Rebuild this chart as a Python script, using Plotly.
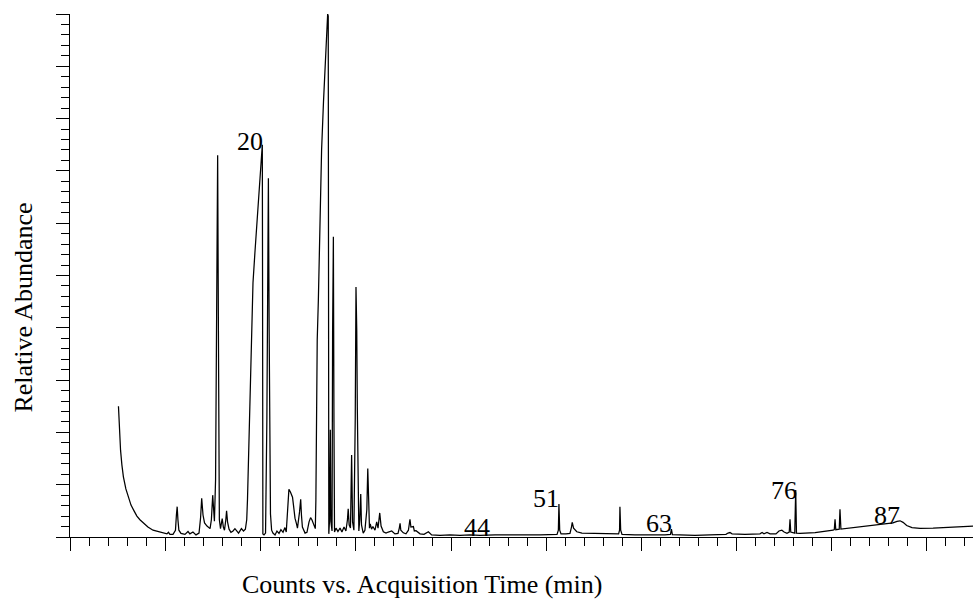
import plotly.graph_objects as go

# Chromatogram trace: acquisition time (min) and relative abundance
time_min = [
    2.50, 2.55, 2.61, 2.68, 2.76, 2.89, 3.03, 3.16, 3.32, 3.47, 3.63, 3.84, 4.05, 4.32, 4.58, 4.84,
    5.05, 5.13, 5.21, 5.37, 5.50, 5.55, 5.59, 5.63, 5.68, 5.79, 6.00, 6.16, 6.26, 6.42, 6.58, 6.74,
    6.82, 6.88, 6.95, 7.03, 7.16, 7.32, 7.39, 7.46, 7.50, 7.55, 7.61, 7.67, 7.72, 7.76, 7.81, 7.87,
    7.92, 7.96, 8.02, 8.08, 8.15, 8.19, 8.24, 8.32, 8.42, 8.53, 8.63, 8.74, 8.82, 8.97, 9.08, 9.18,
    9.25, 9.29, 9.34, 9.42, 9.50, 9.58, 9.68, 9.82, 9.95, 10.04, 10.07, 10.08, 10.10, 10.16, 10.24,
    10.31, 10.35, 10.39, 10.43, 10.46, 10.50, 10.56, 10.63, 10.74, 10.84, 10.95, 11.05, 11.16, 11.26,
    11.33, 11.39, 11.47, 11.55, 11.66, 11.71, 11.79, 11.87, 11.92, 12.03, 12.09, 12.13, 12.18, 12.32,
    12.42, 12.53, 12.61, 12.68, 12.79, 12.86, 12.89, 12.93, 12.96, 13.02, 13.11, 13.19, 13.29, 13.37,
    13.46, 13.51, 13.54, 13.55, 13.57, 13.61, 13.65, 13.68, 13.74, 13.77, 13.81, 13.84, 13.87, 13.95,
    14.05, 14.16, 14.26, 14.37, 14.47, 14.55, 14.59, 14.64, 14.71, 14.77, 14.82, 14.89, 14.96, 15.00,
    15.04, 15.07, 15.11, 15.15, 15.20, 15.25, 15.29, 15.38, 15.47, 15.57, 15.62, 15.66, 15.71, 15.75,
    15.82, 15.89, 16.00, 16.09, 16.16, 16.25, 16.32, 16.44, 16.58, 16.70, 16.88, 17.05, 17.21, 17.28,
    17.32, 17.36, 17.49, 17.63, 17.76, 17.84, 17.89, 18.02, 18.07, 18.16, 18.37, 18.58, 18.81, 18.98,
    19.42, 19.95, 20.47, 21.00, 21.53, 22.32, 23.10, 23.90, 24.68, 25.21, 25.58, 25.65, 25.68, 25.72,
    25.79, 26.05, 26.26, 26.34, 26.38, 26.45, 26.62, 26.89, 27.32, 27.84, 28.37, 28.82, 28.87, 28.89,
    28.93, 29.00, 29.68, 30.47, 31.26, 31.55, 31.60, 31.65, 32.05, 32.84, 33.63, 34.16, 34.47, 34.58,
    34.68, 34.79, 35.47, 36.26, 36.37, 36.47, 36.63, 36.79, 37.10, 37.26, 37.41, 37.53, 37.68, 37.80,
    37.84, 37.88, 38.09, 38.14, 38.18, 38.37, 39.16, 40.11, 40.17, 40.21, 40.25, 40.43, 40.47, 40.52,
    41.00, 41.88, 42.58, 42.93, 43.26, 43.47, 43.63, 43.79, 43.98, 44.26, 44.68, 45.37, 46.42, 47.47,
]
abundance = [
    25.0, 20.5, 16.6, 13.8, 11.5, 9.2, 7.6, 6.1, 5.0, 4.0, 3.3, 2.5, 1.9, 1.3, 1.0, 0.7,
    0.6, 0.9, 0.5, 0.5, 1.3, 4.2, 5.8, 3.3, 1.3, 0.7, 0.5, 1.05, 0.6, 0.95, 0.4, 0.75,
    3.6, 7.4, 4.2, 2.7, 2.1, 1.6, 3.3, 8.0, 5.2, 3.0, 10.9, 45.3, 73.0, 39.6, 3.3, 1.6,
    2.9, 3.5, 1.9, 1.3, 3.3, 5.0, 2.9, 1.5, 0.9, 1.15, 1.6, 1.15, 0.75, 1.6, 1.15, 1.5,
    3.3, 7.1, 14.7, 28.1, 42.4, 48.6, 54.3, 62.1, 69.8, 74.4, 75.0, 54.9, 0.6, 0.4, 0.75,
    22.4, 53.0, 68.6, 39.6, 7.1, 4.4, 1.3, 0.75, 0.4, 1.15, 0.7, 1.4, 0.9, 1.8,
    0.95, 5.2, 9.1, 8.6, 7.6, 6.1, 3.6, 2.5, 1.7, 4.8, 7.2, 4.2, 1.9, 0.75,
    0.9, 2.9, 3.7, 3.3, 2.1, 1.6, 7.1, 22.4, 37.7, 45.3, 60.2, 74.0, 83.2, 89.9,
    96.0, 100.0, 99.6, 45.3, 0.6, 3.3, 20.5, 2.9, 1.15, 39.6, 57.4, 22.4, 0.95, 1.7,
    1.05, 1.7, 0.95, 1.9, 1.15, 3.3, 5.4, 2.3, 1.7, 15.7, 2.9, 1.3, 22.4, 47.8,
    39.6, 24.7, 7.1, 1.15, 3.3, 8.2, 2.3, 0.75, 1.3, 5.2, 13.1, 4.2, 1.7, 2.5,
    1.5, 2.0, 1.3, 2.9, 1.7, 4.6, 2.1, 1.0, 0.75, 0.95, 1.15, 0.6, 0.7, 1.7,
    2.6, 1.3, 0.8, 0.6, 1.3, 3.4, 1.9, 2.0, 1.15, 1.2, 0.6, 0.5, 1.0, 0.4,
    0.3, 0.4, 0.3, 0.4, 0.3, 0.4, 0.35, 0.4, 0.4, 0.45, 0.5, 1.3, 6.3, 1.3,
    0.6, 0.6, 0.7, 1.9, 2.8, 1.7, 1.0, 0.75, 0.7, 0.7, 0.6, 0.6, 1.3, 5.8,
    1.3, 0.5, 0.4, 0.35, 0.4, 0.5, 1.5, 0.45, 0.4, 0.33, 0.4, 0.4, 0.5, 0.75,
    0.85, 0.6, 0.5, 0.6, 0.85, 0.6, 0.85, 0.6, 0.6, 1.15, 1.3, 0.95, 0.7, 0.95,
    3.4, 0.95, 0.75, 9.0, 0.75, 0.7, 0.85, 1.3, 1.4, 3.4, 1.4, 1.5, 5.3, 1.5,
    1.7, 2.0, 2.3, 2.5, 2.7, 3.0, 3.1, 2.8, 2.2, 1.8, 1.65, 1.7, 1.85, 2.1,
]

# Peak labels (peak number, time, height of label centre)
peak_labels = ["20", "44", "51", "63", "76", "87"]
peak_label_time = [9.41, 21.37, 25.0, 30.95, 37.53, 42.97]
peak_label_height = [75.7, 1.9, 7.4, 2.5, 8.8, 4.2]

x_title = "Counts vs. Acquisition Time (min)"
y_title = "Relative Abundance"

FONT = "Liberation Serif, Times New Roman, serif"

fig = go.Figure()
fig.add_trace(go.Scatter(
    x=time_min, y=abundance, mode="lines",
    line=dict(color="black", width=1.25),
    hoverinfo="skip", showlegend=False,
))

for txt, tx, ty in zip(peak_labels, peak_label_time, peak_label_height):
    fig.add_annotation(x=tx, y=ty, xref="x", yref="y", text=txt, showarrow=False,
                       xanchor="center", yanchor="middle",
                       font=dict(family=FONT, size=26, color="black"))

fig.add_annotation(x=0.3893, y=-0.0899, xref="paper", yref="paper", text=x_title,
                   showarrow=False, xanchor="center", yanchor="middle",
                   font=dict(family=FONT, size=26, color="black"))
fig.add_annotation(x=-0.052, y=0.4388, xref="paper", yref="paper", text=y_title,
                   showarrow=False, xanchor="center", yanchor="middle", textangle=-90,
                   font=dict(family=FONT, size=26, color="black"))

fig.update_layout(
    width=973, height=600,
    margin=dict(l=70, r=0, t=14, b=63),
    paper_bgcolor="white", plot_bgcolor="white",
    showlegend=False, hovermode=False,
)
fig.update_xaxes(
    range=[-0.05, 47.47], showgrid=False, zeroline=False, showticklabels=False,
    showline=True, linecolor="black", linewidth=1,
    ticks="outside", tick0=0, dtick=5, ticklen=13, tickcolor="black", tickwidth=1,
    minor=dict(ticks="outside", tick0=0, dtick=1, ticklen=8, tickcolor="black", tickwidth=1, showgrid=False),
)
fig.update_yaxes(
    range=[0, 100], showgrid=False, zeroline=False, showticklabels=False,
    showline=True, linecolor="black", linewidth=1,
    ticks="outside", tick0=0, dtick=10, ticklen=13, tickcolor="black", tickwidth=1,
    minor=dict(ticks="outside", tick0=0, dtick=2, ticklen=8, tickcolor="black", tickwidth=1, showgrid=False),
)

# Remove the browser's default 8px page margin so the figure sits at the window's corner.
fig.write_html("out.html",
               config={"displayModeBar": False, "staticPlot": True},
               post_script="document.body.style.margin='0';document.body.style.overflow='hidden';")
